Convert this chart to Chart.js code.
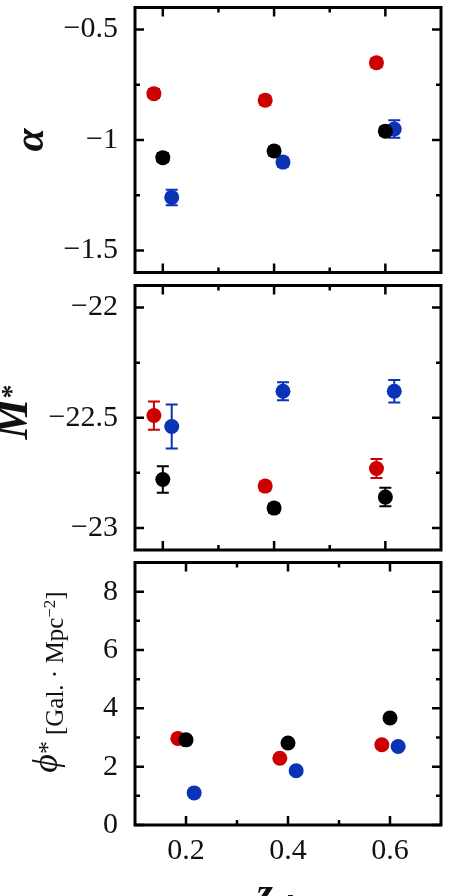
<!DOCTYPE html>
<html>
<head>
<meta charset="utf-8">
<script src="https://cdn.jsdelivr.net/npm/chart.js@4.4.0/dist/chart.umd.min.js"></script>
<style>
  html, body { margin: 0; padding: 0; background: #fff; }
  #wrap { position: relative; width: 449px; height: 896px; overflow: hidden; }
  canvas { position: absolute; left: 0; }
</style>
</head>
<body>
<div id="wrap">
  <canvas id="cAlpha" width="449" height="280" style="top:0px"></canvas>
  <canvas id="cMag" width="449" height="280" style="top:278px"></canvas>
  <canvas id="cPhi" width="449" height="341" style="top:555px"></canvas>
</div>
<script>
// ====== data ======
const zRed   = [0.184, 0.384, 0.584];
const zBlack = [0.2, 0.4, 0.6];
const zBlue  = [0.216, 0.416, 0.616];

const alphaBlack = [-1.08, -1.05, -0.96];
const alphaRed   = [-0.79, -0.82, -0.65];
const alphaBlue  = [-1.26, -1.10, -0.95];
const alphaErrBlack = [0.02, 0.02, 0.02];
const alphaErrRed   = [0.02, 0.02, 0.02];
const alphaErrBlue  = [0.035, 0.02, 0.04];

const magBlack = [-22.78, -22.91, -22.86];
const magRed   = [-22.49, -22.81, -22.73];
const magBlue  = [-22.54, -22.38, -22.38];
const magErrBlack = [0.06, 0.02, 0.042];
const magErrRed   = [0.064, 0.02, 0.043];
const magErrBlue  = [0.10, 0.041, 0.051];

const phiBlack = [2.92, 2.81, 3.67];
const phiRed   = [2.97, 2.29, 2.75];
const phiBlue  = [1.10, 1.86, 2.69];

// tick values
const zTicks = [0.2, 0.4, 0.6];
const zMinor = [0.3, 0.5];
const alphaTicks = [-1.5, -1, -0.5];
const alphaMinor = [-1.25, -0.75];
const magTicks = [-23, -22.5, -22];
const magMinor = [-22.75, -22.25];
const phiTicks = [0, 2, 4, 6, 8];
const phiMinor = [1, 3, 5, 7];

const RED = "#cc0000";
const BLACK = "#000000";
const BLUE = "#0b33b5";
const SERIF = "'Liberation Serif', 'DejaVu Serif', serif";
const INK = "#111";

function fmt(v) {
  return (v < 0 ? "\u2212" : "") + Math.abs(v);
}

// ====== rotated / rich text helper ======
function drawPieces(ctx, pieces, x, y, rotate) {
  ctx.save();
  ctx.translate(x, y);
  if (rotate) ctx.rotate(-Math.PI / 2);
  ctx.fillStyle = INK;
  ctx.textBaseline = "alphabetic";
  ctx.textAlign = "left";
  let total = 0;
  pieces.forEach(p => { ctx.font = p.font; total += ctx.measureText(p.text).width + (p.gap || 0); });
  let cur = -total / 2;
  pieces.forEach(p => {
    ctx.font = p.font;
    cur += p.gap || 0;
    ctx.fillText(p.text, cur, -(p.rise || 0));
    cur += ctx.measureText(p.text).width;
  });
  ctx.restore();
}

// ====== frame, inside ticks, error bars, titles ======
function decor(spec) {
  return {
    id: "decor",
    beforeDatasetsDraw(chart) {
      const { x, y } = chart.scales;
      const ctx = chart.ctx;
      chart.data.datasets.forEach(ds => {
        if (!ds.errors) return;
        ctx.save();
        ctx.strokeStyle = ds.backgroundColor;
        ctx.lineWidth = 2;
        ds.data.forEach((p, i) => {
          const px = x.getPixelForValue(p.x);
          const t = y.getPixelForValue(p.y + ds.errors[i]);
          const b = y.getPixelForValue(p.y - ds.errors[i]);
          ctx.beginPath();
          ctx.moveTo(px, t); ctx.lineTo(px, b);
          ctx.moveTo(px - 6, t); ctx.lineTo(px + 6, t);
          ctx.moveTo(px - 6, b); ctx.lineTo(px + 6, b);
          ctx.stroke();
        });
        ctx.restore();
      });
    },
    afterDraw(chart) {
      const { x, y } = chart.scales;
      const { left, right, top, bottom } = chart.chartArea;
      const ctx = chart.ctx;
      ctx.save();
      ctx.strokeStyle = "#000";
      ctx.lineCap = "butt";
      const xt = (list, len, w) => {
        ctx.lineWidth = w;
        list.forEach(v => {
          const px = x.getPixelForValue(v);
          ctx.beginPath();
          ctx.moveTo(px, bottom); ctx.lineTo(px, bottom - len);
          ctx.moveTo(px, top); ctx.lineTo(px, top + len);
          ctx.stroke();
        });
      };
      const yt = (list, len, w) => {
        ctx.lineWidth = w;
        list.forEach(v => {
          const py = y.getPixelForValue(v);
          ctx.beginPath();
          ctx.moveTo(left, py); ctx.lineTo(left + len, py);
          ctx.moveTo(right, py); ctx.lineTo(right - len, py);
          ctx.stroke();
        });
      };
      xt(zTicks, 9, 2.5);
      xt(zMinor, 5, 2.5);
      yt(spec.yTicks, 9, 2.5);
      yt(spec.yMinor, 5, 2.5);
      ctx.lineWidth = 3;
      ctx.strokeRect(left, top, right - left, bottom - top);
      ctx.restore();
      if (spec.yTitle) drawPieces(ctx, spec.yTitle.pieces, spec.yTitle.x, spec.yTitle.y, true);
      if (spec.xTitle) drawPieces(ctx, spec.xTitle.pieces, spec.xTitle.x, spec.xTitle.y, false);
    }
  };
}

function panel(id, spec) {
  const series = [
    { z: zBlack, v: spec.black, err: spec.errBlack, color: BLACK },
    { z: zRed, v: spec.red, err: spec.errRed, color: RED },
    { z: zBlue, v: spec.blue, err: spec.errBlue, color: BLUE }
  ];
  return new Chart(document.getElementById(id), {
    type: "scatter",
    data: {
      datasets: series.map(s => ({
        data: s.z.map((z, i) => ({ x: z, y: s.v[i] })),
        errors: s.err,
        backgroundColor: s.color,
        borderWidth: 0,
        pointRadius: 7.5,
        pointHoverRadius: 7.5
      }))
    },
    options: {
      responsive: false,
      animation: false,
      devicePixelRatio: 1,
      events: [],
      layout: { padding: { top: spec.padTop, bottom: spec.padBottom, left: 0, right: 8 } },
      plugins: { legend: { display: false }, tooltip: { enabled: false } },
      scales: {
        x: {
          type: "linear",
          min: spec.xMin, max: spec.xMax,
          grid: { display: false, drawTicks: false },
          border: { display: false },
          ticks: {
            display: spec.xLabels,
            autoSkip: false, maxRotation: 0, padding: 8,
            color: INK,
            font: { family: SERIF, size: 30 },
            callback: v => v.toFixed(1)
          },
          afterBuildTicks: s => { s.ticks = zTicks.map(v => ({ value: v })); },
          afterFit: s => { s.height = spec.xHeight; s.paddingLeft = 0; s.paddingRight = 0; }
        },
        y: {
          type: "linear",
          min: spec.yMin, max: spec.yMax,
          grid: { display: false, drawTicks: false },
          border: { display: false },
          ticks: {
            autoSkip: false, padding: 17,
            color: INK,
            font: { family: SERIF, size: 30 },
            callback: v => fmt(v)
          },
          afterBuildTicks: s => { s.ticks = spec.yTicks.map(v => ({ value: v })); },
          afterFit: s => { s.width = 135; s.paddingTop = 0; s.paddingBottom = 0; }
        }
      }
    },
    plugins: [decor(spec)]
  });
}

// ====== panels ======
panel("cAlpha", {
  black: alphaBlack, red: alphaRed, blue: alphaBlue,
  errBlack: alphaErrBlack, errRed: alphaErrRed, errBlue: alphaErrBlue,
  xMin: 0.15, xMax: 0.7, yMin: -1.6, yMax: -0.4,
  yTicks: alphaTicks, yMinor: alphaMinor,
  xLabels: false, xHeight: 0, padTop: 7, padBottom: 6.5,
  yTitle: { x: 43, y: 140, pieces: [{ text: "\u03b1", font: "bold italic 42px " + SERIF }] }
});

panel("cMag", {
  black: magBlack, red: magRed, blue: magBlue,
  errBlack: magErrBlack, errRed: magErrRed, errBlue: magErrBlue,
  xMin: 0.15, xMax: 0.7, yMin: -23.1, yMax: -21.9,
  yTicks: magTicks, yMinor: magMinor,
  xLabels: false, xHeight: 0, padTop: 5, padBottom: 8,
  yTitle: { x: 27, y: 134, pieces: [
    { text: "M", font: "bold italic 46px " + SERIF },
    { text: "*", font: "bold 28px " + SERIF, rise: 7 }
  ] }
});

panel("cPhi", {
  black: phiBlack, red: phiRed, blue: phiBlue,
  xMin: 0.1, xMax: 0.7, yMin: 0, yMax: 9,
  yTicks: phiTicks, yMinor: phiMinor,
  xLabels: true, xHeight: 71, padTop: 5.5, padBottom: 0,
  yTitle: { x: 57, y: 127, pieces: [
    { text: "\u03d5", font: "italic 36px " + SERIF },
    { text: "*", font: "26px " + SERIF, rise: 1 },
    { text: "[Gal. \u00b7 Mpc", font: "25px " + SERIF, rise: -6, gap: 6 },
    { text: "\u22122", font: "17px " + SERIF, rise: 2 },
    { text: "]", font: "25px " + SERIF, rise: -6 }
  ] },
  xTitle: { x: 288, y: 351, pieces: [
    { text: "z", font: "bold italic 42px " + SERIF },
    { text: "clus", font: "bold italic 28px " + SERIF, rise: -8 }
  ] }
});
</script>
</body>
</html>
